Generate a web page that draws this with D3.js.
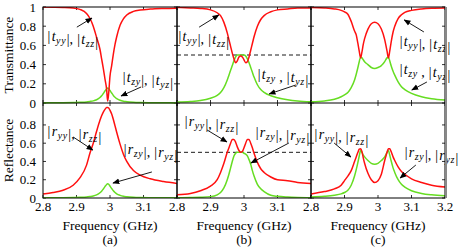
<!DOCTYPE html>
<html>
<head>
<meta charset="utf-8">
<script src="https://cdn.jsdelivr.net/npm/d3@7"></script>
<style>
  body { margin: 0; background: #fff; }
  svg, svg text { font-family: "Liberation Serif", "Times New Roman", Times, serif; }
</style>
</head>
<body>
<div id="chart"></div>
<script>
// frequency grids (GHz), one per panel
const freqA = [2.8, 2.83, 2.86, 2.89, 2.91, 2.93, 2.94, 2.95, 2.96, 2.97, 2.975, 2.98, 2.985, 2.99, 2.993, 2.996, 3.0, 3.005, 3.01, 3.015, 3.02, 3.03, 3.04, 3.05, 3.07, 3.09, 3.12, 3.16, 3.2]
const freqB = [2.8, 2.84, 2.87, 2.9, 2.92, 2.93, 2.94, 2.95, 2.955, 2.96, 2.965, 2.97, 2.975, 2.98, 2.985, 2.99, 2.995, 3.0, 3.005, 3.01, 3.015, 3.02, 3.025, 3.03, 3.04, 3.05, 3.06, 3.08, 3.1, 3.13, 3.16, 3.2]
const freqC = [2.8, 2.84, 2.87, 2.89, 2.9, 2.91, 2.92, 2.93, 2.935, 2.94, 2.944, 2.948, 2.952, 2.956, 2.96, 2.97, 2.98, 2.99, 3.0, 3.01, 3.02, 3.023, 3.027, 3.031, 3.035, 3.039, 3.045, 3.05, 3.06, 3.07, 3.08, 3.1, 3.13, 3.16, 3.2]

// (a)
const tCoA = [0.999, 0.998, 0.996, 0.99, 0.975, 0.933, 0.883, 0.8, 0.683, 0.56, 0.46, 0.36, 0.25, 0.14, 0.02, 0.1, 0.28, 0.39, 0.51, 0.61, 0.69, 0.81, 0.877, 0.917, 0.954, 0.968, 0.978, 0.984, 0.987]
const crossA = [0.001, 0.002, 0.003, 0.005, 0.007, 0.011, 0.016, 0.022, 0.034, 0.057, 0.075, 0.099, 0.125, 0.148, 0.155, 0.15, 0.13, 0.104, 0.079, 0.06, 0.046, 0.029, 0.019, 0.014, 0.008, 0.005, 0.003, 0.002, 0.001]
const rCoA = [0.045, 0.06, 0.085, 0.14, 0.22, 0.36, 0.49, 0.6, 0.73, 0.85, 0.9, 0.94, 0.97, 0.99, 0.99, 0.985, 0.96, 0.92, 0.86, 0.79, 0.72, 0.59, 0.48, 0.4, 0.3, 0.25, 0.21, 0.18, 0.16]

// (b)
const tCoB = [0.995, 0.99, 0.985, 0.97, 0.94, 0.91, 0.84, 0.73, 0.66, 0.59, 0.52, 0.46, 0.42, 0.44, 0.48, 0.49, 0.48, 0.45, 0.42, 0.43, 0.48, 0.55, 0.62, 0.69, 0.8, 0.87, 0.91, 0.95, 0.97, 0.98, 0.99, 0.99]
const tCrB = [0.01, 0.015, 0.025, 0.05, 0.08, 0.11, 0.16, 0.24, 0.29, 0.34, 0.39, 0.44, 0.48, 0.5, 0.5, 0.5, 0.5, 0.5, 0.49, 0.46, 0.42, 0.37, 0.32, 0.27, 0.19, 0.14, 0.11, 0.075, 0.055, 0.035, 0.022, 0.013]
const rCoB = [0.035, 0.05, 0.08, 0.13, 0.2, 0.28, 0.38, 0.5, 0.55, 0.6, 0.64, 0.64, 0.61, 0.56, 0.52, 0.5, 0.51, 0.55, 0.6, 0.64, 0.64, 0.6, 0.55, 0.49, 0.39, 0.32, 0.28, 0.23, 0.2, 0.19, 0.17, 0.16]
const rCrB = [0.003, 0.005, 0.008, 0.015, 0.035, 0.06, 0.11, 0.2, 0.26, 0.33, 0.4, 0.46, 0.49, 0.5, 0.5, 0.5, 0.5, 0.49, 0.48, 0.46, 0.42, 0.37, 0.3, 0.24, 0.15, 0.1, 0.07, 0.03, 0.018, 0.01, 0.006, 0.004]

// (c)
const tCoC = [0.995, 0.99, 0.98, 0.965, 0.95, 0.925, 0.85, 0.75, 0.71, 0.62, 0.54, 0.47, 0.53, 0.61, 0.67, 0.77, 0.825, 0.84, 0.825, 0.77, 0.66, 0.61, 0.54, 0.47, 0.54, 0.63, 0.74, 0.8, 0.88, 0.92, 0.945, 0.965, 0.98, 0.987, 0.99]
const tCrC = [0.012, 0.022, 0.04, 0.065, 0.085, 0.11, 0.16, 0.24, 0.3, 0.37, 0.43, 0.48, 0.47, 0.45, 0.43, 0.4, 0.37, 0.36, 0.37, 0.39, 0.43, 0.45, 0.47, 0.48, 0.44, 0.39, 0.33, 0.29, 0.22, 0.17, 0.14, 0.1, 0.065, 0.045, 0.03]
const rCoC = [0.045, 0.07, 0.1, 0.14, 0.19, 0.24, 0.3, 0.4, 0.45, 0.5, 0.535, 0.54, 0.51, 0.44, 0.38, 0.27, 0.2, 0.17, 0.19, 0.26, 0.41, 0.45, 0.5, 0.54, 0.54, 0.51, 0.45, 0.41, 0.34, 0.29, 0.26, 0.21, 0.17, 0.14, 0.12]
const rCrC = [0.01, 0.018, 0.03, 0.045, 0.06, 0.085, 0.14, 0.24, 0.31, 0.39, 0.46, 0.52, 0.5, 0.47, 0.45, 0.41, 0.38, 0.37, 0.38, 0.41, 0.45, 0.47, 0.5, 0.52, 0.47, 0.41, 0.33, 0.28, 0.2, 0.15, 0.12, 0.08, 0.05, 0.035, 0.025]

const xTicks = [2.8, 2.9, 3, 3.1, 3.2]
const yTicksT = [0, 0.2, 0.4, 0.6, 0.8, 1]
const yTicksR = [0, 0.2, 0.4, 0.6, 0.8]
const panelNames = ["(a)", "(b)", "(c)"]

const panels = [
    {freq: freqA, tCo: tCoA, tCr: crossA, rCo: rCoA, rCr: crossA, dashed: false},
    {freq: freqB, tCo: tCoB, tCr: tCrB, rCo: rCoB, rCr: rCrB, dashed: true},
    {freq: freqC, tCo: tCoC, tCr: tCrC, rCo: rCoC, rCr: rCrC, dashed: false}
]

// annotations: [panel, row, label, text f, text v, arrow from f, v, arrow to f, v]
const notes = [
    [0, 0, "|t_yy|, |t_zz|", 2.812, 0.646, 2.901, 0.79, 2.946, 0.885],
    [0, 0, "|t_zy|, |t_yz|", 3.036, 0.219, 3.093, 0.167, 3.033, 0.073],
    [0, 1, "|r_yy|, |r_zz|", 2.812, 0.679, 2.89, 0.668, 2.949, 0.525],
    [0, 1, "|r_zy|, |r_yz|", 3.039, 0.482, 3.125, 0.285, 3.009, 0.164],
    [1, 0, "|t_yy|, |t_zz|", 2.803, 0.646, 2.866, 0.79, 2.925, 0.917],
    [1, 0, "|t_zy , |t_yz|", 3.039, 0.25, 3.155, 0.188, 3.075, 0.094],
    [1, 1, "|r_yy|, |r_zz|", 2.821, 0.788, 2.89, 0.744, 2.949, 0.613],
    [1, 1, "|r_zy|, |r_yz|", 3.033, 0.668, 3.134, 0.602, 3.021, 0.383],
    [2, 0, "|t_yy|, |t_zz|", 3.063, 0.594, 3.137, 0.74, 3.078, 0.865],
    [2, 0, "|t_zy , |t_yz|", 3.063, 0.302, 3.146, 0.219, 3.101, 0.135],
    [2, 1, "|r_yy|, |r_zz|", 2.809, 0.646, 2.869, 0.602, 2.919, 0.449],
    [2, 1, "|r_zy|, |r_yz|", 3.078, 0.449, 3.113, 0.361, 3.066, 0.219]
]

const width = 458, height = 247
const left = 43, panelW = 134
const topY = 7, midY = 103, botY = 198
const red = "#ff1010", green = "#66dd22"

const svg = d3.select("#chart").append("svg")
    .attr("width", width)
    .attr("height", height)
    .attr("font-family", "Liberation Serif")

svg.append("defs").append("marker")
    .attr("id", "head")
    .attr("viewBox", "0 0 10 10")
    .attr("refX", 9).attr("refY", 5)
    .attr("markerWidth", 7).attr("markerHeight", 7)
    .attr("markerUnits", "userSpaceOnUse")
    .attr("orient", "auto")
    .append("path")
    .attr("d", "M0,1 L10,5 L0,9 Z")
    .attr("fill", "#000")

const yT = d3.scaleLinear().domain([0, 1]).range([midY, topY])
const yR = d3.scaleLinear().domain([0, 1.04]).range([botY, midY])

// writes |t_yy|-style labels with italic letters and subscripts
function mathText(g, str, x, y) {
    const t = g.append("text").attr("x", x).attr("y", y)
        .attr("font-size", 14).attr("fill", "#000")
    let i = 0
    while (i < str.length) {
        const ch = str[i]
        if (ch === "_") {
            t.append("tspan").attr("dy", 3).attr("font-size", 10)
                .attr("font-style", "italic").attr("dx", 0.6)
                .attr("letter-spacing", 0.6)
                .text(str.substr(i + 1, 2))
            t.append("tspan").attr("dy", -3).text("")
            i += 3
        } else if (ch === "t" || ch === "r") {
            t.append("tspan").attr("font-style", "italic").attr("dx", 1.2).text(ch)
            i++
        } else if (ch === "|") {
            t.append("tspan").attr("dx", 0.6).text("|")
            i++
        } else {
            t.append("tspan").text(ch === " " ? "\u00a0" : ch)
            i++
        }
    }
    return t
}

panels.forEach((p, k) => {
    const x0 = left + k * panelW
    const x = d3.scaleLinear().domain([2.8, 3.2]).range([x0, x0 + panelW])
    const g = svg.append("g")

    const clipId = "clip" + k
    svg.append("clipPath").attr("id", clipId)
        .append("rect").attr("x", x0).attr("y", topY).attr("width", panelW).attr("height", botY - topY)

    const rows = [
        {y: yT, co: p.tCo, cr: p.tCr, ticks: yTicksT},
        {y: yR, co: p.rCo, cr: p.rCr, ticks: yTicksR}
    ]

    rows.forEach(row => {
        const y = row.y
        const y1 = y.range()[0], y2 = y.range()[1]

        // inward ticks on all four sides
        g.selectAll(null).data(row.ticks).enter().append("line")
            .attr("x1", x0).attr("x2", x0 + 3)
            .attr("y1", d => y(d)).attr("y2", d => y(d))
            .attr("stroke", "#000").attr("stroke-width", 0.8)
        g.selectAll(null).data(row.ticks).enter().append("line")
            .attr("x1", x0 + panelW).attr("x2", x0 + panelW - 3)
            .attr("y1", d => y(d)).attr("y2", d => y(d))
            .attr("stroke", "#000").attr("stroke-width", 0.8)
        g.selectAll(null).data(xTicks).enter().append("line")
            .attr("x1", d => x(d)).attr("x2", d => x(d))
            .attr("y1", y1).attr("y2", y1 - 3)
            .attr("stroke", "#000").attr("stroke-width", 0.8)
        g.selectAll(null).data(xTicks).enter().append("line")
            .attr("x1", d => x(d)).attr("x2", d => x(d))
            .attr("y1", y2).attr("y2", y2 + 3)
            .attr("stroke", "#000").attr("stroke-width", 0.8)

        if (k === 0) {
            g.selectAll(null).data(row.ticks).enter().append("text")
                .attr("x", x0 - 7)
                .attr("y", d => y(d) + 4.5)
                .attr("text-anchor", "end")
                .attr("font-size", 13)
                .text(d => d3.format("~g")(d))
        }

        if (p.dashed) {
            g.append("line")
                .attr("x1", x0).attr("x2", x0 + panelW)
                .attr("y1", y(0.5)).attr("y2", y(0.5))
                .attr("stroke", "#000").attr("stroke-width", 0.9)
                .attr("stroke-dasharray", "4,3")
        }

        const line = d3.line()
            .x((d, i) => x(p.freq[i]))
            .y(d => y(d))
            .curve(d3.curveMonotoneX)

        g.append("path").datum(row.cr)
            .attr("d", line)
            .attr("fill", "none").attr("stroke", green).attr("stroke-width", 1.5)
            .attr("clip-path", `url(#${clipId})`)
        g.append("path").datum(row.co)
            .attr("d", line)
            .attr("fill", "none").attr("stroke", red).attr("stroke-width", 1.5)
            .attr("clip-path", `url(#${clipId})`)
    })

    // frame
    g.append("rect")
        .attr("x", x0).attr("y", topY)
        .attr("width", panelW).attr("height", botY - topY)
        .attr("fill", "none").attr("stroke", "#000").attr("stroke-width", 1)
    g.append("line")
        .attr("x1", x0).attr("x2", x0 + panelW)
        .attr("y1", midY).attr("y2", midY)
        .attr("stroke", "#000").attr("stroke-width", 1)

    // x tick labels
    const labs = k === 2 ? xTicks : xTicks.slice(0, 4)
    g.selectAll(null).data(labs).enter().append("text")
        .attr("x", d => x(d))
        .attr("y", 211)
        .attr("text-anchor", "middle")
        .attr("font-size", 13)
        .text(d => d3.format("~g")(d))

    g.append("text")
        .attr("x", x0 + panelW / 2).attr("y", 230)
        .attr("text-anchor", "middle").attr("font-size", 13.5)
        .text("Frequency (GHz)")
    g.append("text")
        .attr("x", x0 + panelW / 2).attr("y", 244)
        .attr("text-anchor", "middle").attr("font-size", 13.5)
        .text(panelNames[k])

    // annotations
    notes.filter(n => n[0] === k).forEach(n => {
        const y = n[1] === 0 ? yT : yR
        mathText(svg, n[2], x(n[3]), y(n[4]))
        svg.append("line")
            .attr("x1", x(n[5])).attr("y1", y(n[6]))
            .attr("x2", x(n[7])).attr("y2", y(n[8]))
            .attr("stroke", "#000").attr("stroke-width", 0.9)
            .attr("marker-end", "url(#head)")
    })
})

// heavier grey edge on the far right
svg.append("line")
    .attr("x1", left + 3 * panelW + 1).attr("x2", left + 3 * panelW + 1)
    .attr("y1", topY).attr("y2", botY)
    .attr("stroke", "#888").attr("stroke-width", 2)

svg.append("text")
    .attr("transform", `translate(13,${(topY + midY) / 2}) rotate(-90)`)
    .attr("text-anchor", "middle").attr("font-size", 13.5)
    .text("Transmittance")
svg.append("text")
    .attr("transform", `translate(13,${(midY + botY) / 2}) rotate(-90)`)
    .attr("text-anchor", "middle").attr("font-size", 13.5)
    .text("Reflectance")
</script>
</body>
</html>
